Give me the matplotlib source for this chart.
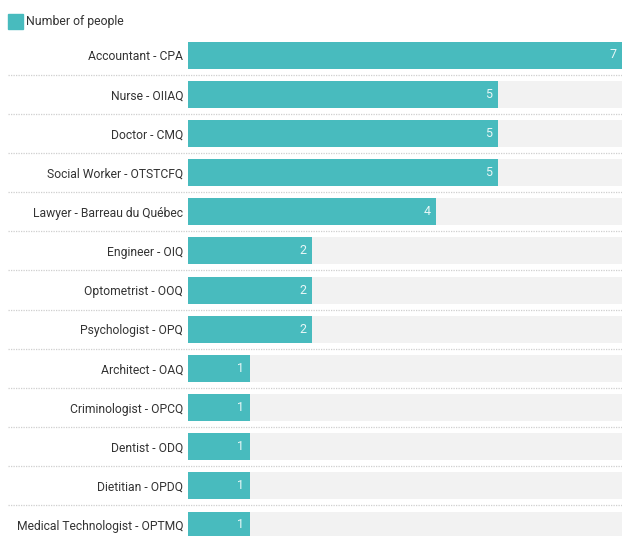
import matplotlib
matplotlib.use("Agg")
import matplotlib.pyplot as plt

categories = ["Accountant - CPA", "Nurse - OIIAQ", "Doctor - CMQ", "Social Worker - OTSTCFQ",
              "Lawyer - Barreau du Québec", "Engineer - OIQ", "Optometrist - OOQ",
              "Psychologist - OPQ", "Architect - OAQ", "Criminologist - OPCQ",
              "Dentist - ODQ", "Dietitian - OPDQ", "Medical Technologist - OPTMQ"]
values = [7, 5, 5, 5, 4, 2, 2, 2, 1, 1, 1, 1, 1]
series_name = "Number of people"

plt.rcParams['font.family'] = ['Roboto', 'DejaVu Sans']

W, H = 622, 536
fig = plt.figure(figsize=(W / 100, H / 100), dpi=100)
left_px = 188
ax = fig.add_axes([left_px / W, 0, (W - left_px) / W, 1])

teal = "#48BBBE"
vmax = max(values)
ypos = list(range(len(categories)))
row_px = (525 - 55) / 12
ax.barh(ypos, [vmax] * len(values), height=27 / row_px, color="#F2F2F2", zorder=1)
ax.barh(ypos, values, height=27 / row_px, color=teal, zorder=2)

ax.set_xlim(0, vmax)
ax.set_ylim(12 + 11 / row_px, -55 / row_px)

for y, v in zip(ypos, values):
    ax.annotate(str(v), xy=(v, y), xytext=(-4, 0), textcoords="offset points",
                ha="right", va="center", color="#E8F7F7", fontsize=9, zorder=3)

for i in range(len(categories) - 1):
    ax.axhline(i + 0.5, xmin=(8 - left_px) / (W - left_px), xmax=1, color="#CFCFCF",
               linestyle=(0, (1, 1)), linewidth=0.9, clip_on=False, zorder=0)

ax.set_yticks(ypos)
ax.set_yticklabels(categories, fontsize=8.7, color="#333333")
ax.tick_params(axis="y", length=0, pad=3.5)
ax.set_xticks([])
for s in ax.spines.values():
    s.set_visible(False)

# legend
fig.patches.append(matplotlib.patches.Rectangle((8 / W, 1 - 29 / H), 15 / W, 15 / H,
                                                 transform=fig.transFigure, color=teal))
fig.text(26 / W, 1 - 21.5 / H, series_name, fontsize=8.8, color="#333333", va="center", ha="left")

fig.savefig("out.png", dpi=100)
